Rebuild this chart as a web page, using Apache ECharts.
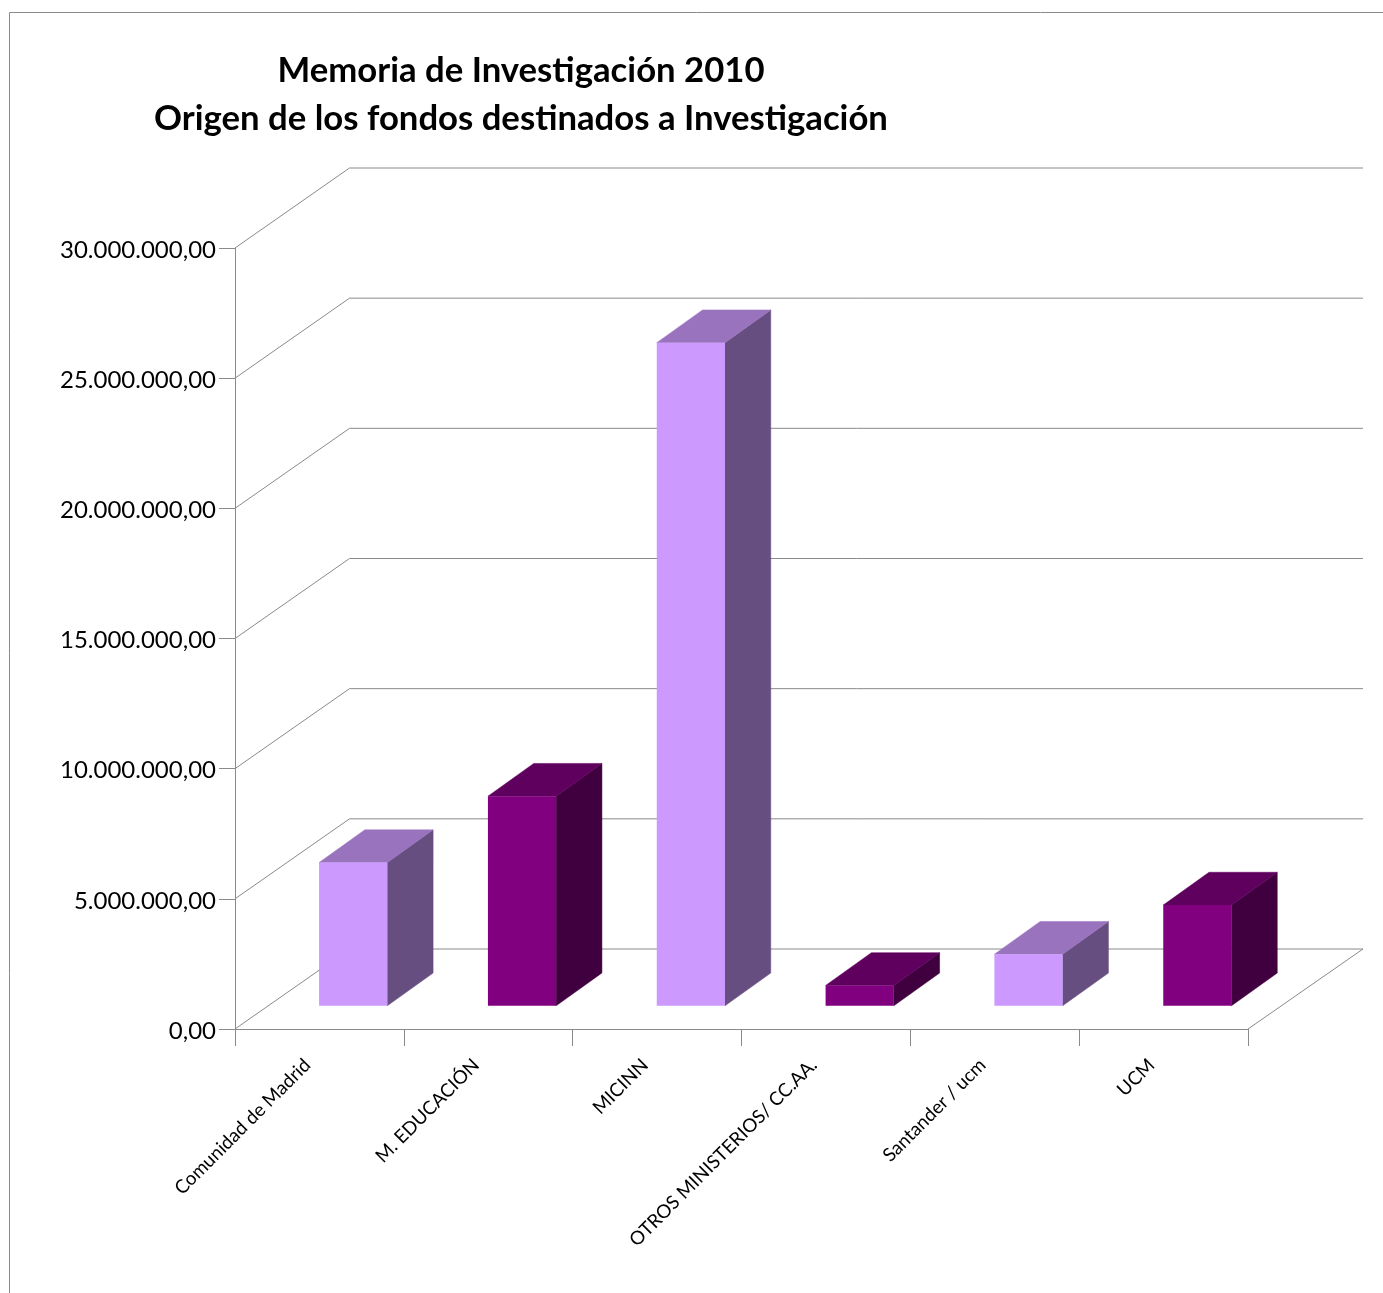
<!DOCTYPE html>
<html><head><meta charset="utf-8">
<style>html,body{margin:0;padding:0;background:#fff}#c{width:1383px;height:1293px}</style>
<script src="https://cdn.jsdelivr.net/npm/echarts@6/dist/echarts.min.js"></script>
</head><body><div id="c"></div>
<script>
const categories = ['Comunidad de Madrid','M. EDUCACIÓN','MICINN','OTROS MINISTERIOS/ CC.AA.','Santander / ucm','UCM'];
const values = [5500000,8050000,25470000,780000,1980000,3870000];
const tickValues = [0,5000000,10000000,15000000,20000000,25000000,30000000];
const titleLines = ['Memoria de Investigación 2010','Origen de los fondos destinados a Investigación'];
const FONT = 'Lato, "Open Sans", sans-serif';
const AXIS = '#8a8a8a';
const DX = 114.5, DY = 80;          // wall depth on screen
const palettes = [
  {front:'#CC99FF', side:'#664E80', top:'#9A73BF'},
  {front:'#800080', side:'#40003F', top:'#5F005F'}
];
const fmt = v => v.toLocaleString('de-DE',{minimumFractionDigits:2,maximumFractionDigits:2});
const line = (pts) => ({type:'polyline',shape:{points:pts},style:{fill:null,stroke:AXIS,lineWidth:1},silent:true});

const chart = echarts.init(document.getElementById('c'),null,{renderer:'canvas'});
chart.setOption({
  animation:false,
  backgroundColor:'#fff',
  title:{text:titleLines.join('\n'),left:516,top:42,textAlign:'center',
    textStyle:{fontFamily:FONT,fontWeight:'bold',fontSize:34.7,lineHeight:48,color:'#000'}},
  graphic:[{type:'polyline',silent:true,shape:{points:[[9.5,1300],[9.5,12.5],[1390,12.5]]},style:{fill:null,stroke:AXIS,lineWidth:1}}],
  grid:{left:235,top:248,width:1013,height:781,containLabel:false},
  xAxis:{type:'category',data:categories,boundaryGap:true,
    axisLine:{lineStyle:{color:AXIS,width:1}},
    axisTick:{show:true,alignWithLabel:false,length:17,lineStyle:{color:AXIS}},
    axisLabel:{interval:0,rotate:45,margin:21,padding:[0,17,0,0],fontFamily:FONT,fontSize:18.8,color:'#000'}},
  yAxis:{type:'value',min:0,max:30000000,interval:5000000,
    axisLine:{show:true,lineStyle:{color:AXIS,width:1}},
    axisTick:{show:true,length:16,lineStyle:{color:AXIS}},
    splitLine:{show:false},
    axisLabel:{margin:19,verticalAlign:'top',lineHeight:4,fontFamily:FONT,fontSize:24,color:'#000',formatter:fmt}},
  series:[
    {type:'custom',coordinateSystem:'cartesian2d',silent:true,z:1,
     data:tickValues.map(v=>[0,v]),
     encode:{x:0,y:1},
     renderItem(params,api){
       const y = api.coord([0,api.value(1)])[1];
       const r = params.coordSys;
       const kids = [line([[r.x,y],[r.x+DX,y-DY],[r.x+DX+1013.5,y-DY]])];
       if(api.value(1)===0) kids.push(line([[r.x+r.width,y],[r.x+DX+1013.5,y-DY]]));
       return {type:'group',children:kids};
     }},
    {type:'custom',coordinateSystem:'cartesian2d',silent:true,z:2,
     data:values.map((v,i)=>[i,v]),
     encode:{x:0,y:1},
     renderItem(params,api){
       const i = api.value(0), pal = palettes[i%2];
       const band = api.size([1,0])[0];
       const w = band*0.404, ox = DX*0.295, oy = DY*0.29, bx = DX*0.4, by = DY*0.41;
       const c = api.coord([i,api.value(1)]), b = api.coord([i,0]);
       const xl = c[0]-w/2+ox, xr = xl+w, yt = c[1]-oy, yb = b[1]-oy;
       const poly = (pts,fill)=>({type:'polygon',shape:{points:pts},style:{fill,stroke:fill,lineWidth:0.5}});
       return {type:'group',children:[
         poly([[xr,yt],[xr+bx,yt-by],[xr+bx,yb-by],[xr,yb]],pal.side),
         poly([[xl,yt],[xl+bx,yt-by],[xr+bx,yt-by],[xr,yt]],pal.top),
         {type:'rect',shape:{x:xl,y:yt,width:w,height:yb-yt},style:{fill:pal.front}}
       ]};
     }}
  ]
});
</script></body></html>
